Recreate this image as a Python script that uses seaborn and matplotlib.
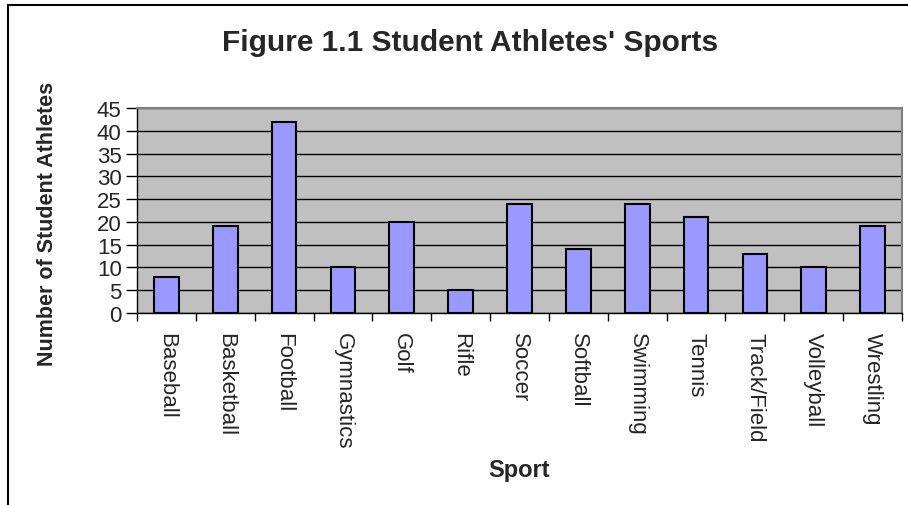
import matplotlib
matplotlib.use("Agg")
import matplotlib.pyplot as plt
from matplotlib.lines import Line2D
import numpy as np
import pandas as pd
import seaborn as sns

sports = ["Baseball", "Basketball", "Football", "Gymnastics", "Golf", "Rifle",
          "Soccer", "Softball", "Swimming", "Tennis", "Track/Field",
          "Volleyball", "Wrestling"]
athletes = [8, 19, 42, 10, 20, 5, 24, 14, 24, 21, 13, 10, 19]
y_ticks = [0, 5, 10, 15, 20, 25, 30, 35, 40, 45]

sns.set_style("white")
plt.rcParams["font.family"] = ["Liberation Sans", "DejaVu Sans"]

data = pd.DataFrame({"sport": sports, "count": athletes})

fig = plt.figure(figsize=(9.08, 5.06), dpi=100)
ax = fig.add_axes([137 / 908, 1 - 314 / 506, (902 - 137) / 908, (314 - 109) / 506])
ax.set_facecolor("#C0C0C0")

sns.barplot(data=data, x="sport", y="count", color="#9999FF", saturation=1,
            edgecolor="black", linewidth=1.5, width=0.42, ax=ax, zorder=3)

ax.set_xlim(-0.5, len(sports) - 0.5)
ax.set_ylim(0, 45)
ax.set_yticks(y_ticks)
ax.set_yticklabels([str(v) for v in y_ticks], fontsize=16)
ax.yaxis.grid(True, color="black", linewidth=1, zorder=1)
ax.set_axisbelow(True)

ax.set_xticks(range(len(sports)))
ax.set_xticklabels(sports, rotation=-90, fontsize=16, va="top", ha="center")
ax.set_xticks(np.arange(-0.5, len(sports)), minor=True)
ax.tick_params(axis="x", which="major", length=0, pad=14)
ax.tick_params(axis="x", which="minor", length=6, width=1, color="black",
               direction="out", bottom=True)
ax.tick_params(axis="y", length=8, width=1, color="black", direction="out",
               left=True, pad=3)

for side in ["left", "bottom"]:
    ax.spines[side].set_color("black")
    ax.spines[side].set_linewidth(1)
for side in ["top", "right"]:
    ax.spines[side].set_visible(True)
    ax.spines[side].set_color("#808080")
    ax.spines[side].set_linewidth(1.5)

ax.set_xlabel("")
ax.set_ylabel("")

fig.text(470 / 908, 1 - 43 / 506, "Figure 1.1 Student Athletes' Sports",
         fontsize=21.5, fontweight="bold", ha="center", va="center")
fig.text(48 / 908, 1 - 224 / 506, "Number of Student Athletes",
         fontsize=15.5, fontweight="bold", rotation=90, ha="center", va="center")
fig.text(519 / 908, 1 - 471 / 506, "Sport",
         fontsize=17, fontweight="bold", ha="center", va="center")

# chart area border (top and left edges visible)
fig.add_artist(Line2D([8 / 908, 1], [1 - 6 / 506, 1 - 6 / 506],
                      transform=fig.transFigure, color="black", linewidth=1.5))
fig.add_artist(Line2D([8 / 908, 8 / 908], [0, 1 - 6 / 506],
                      transform=fig.transFigure, color="black", linewidth=1.5))

fig.savefig("out.png", dpi=100)
